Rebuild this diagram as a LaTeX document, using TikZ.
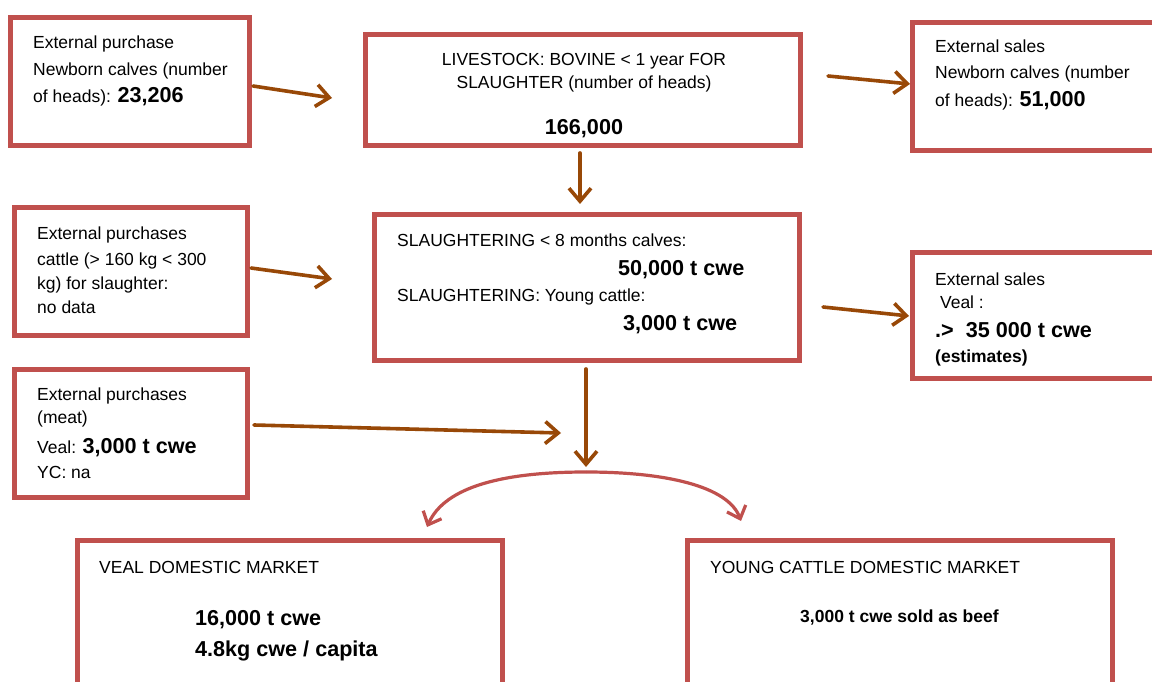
\documentclass[tikz,border=0pt]{standalone}
\usepackage{fontspec}
\setmainfont{Liberation Sans}
\usetikzlibrary{arrows.meta}
\definecolor{boxred}{HTML}{C0504D}
\definecolor{flowbrown}{HTML}{984807}
\begin{document}
\begin{tikzpicture}[x=1pt,y=-1pt,
  box/.style={draw=boxred,line width=5pt,fill=white,inner sep=0pt,outer sep=0pt},
  flow/.style={draw=flowbrown,line width=3.6pt,line cap=round,
    -{Straight Barb[length=13pt,width=22pt,line width=3.6pt]}},
  split/.style={draw=boxred,line width=3.2pt,
    -{Straight Barb[length=11pt,width=20pt,line width=3.2pt]}},
  txt/.style={anchor=base west,inner sep=0pt,font=\fontsize{17.5}{21}\selectfont},
  ctxt/.style={txt,anchor=base},
  big/.style={font=\fontsize{21.6}{26}\selectfont\bfseries},
  sbold/.style={font=\fontsize{17.5}{21}\selectfont\bfseries}]
\clip (0,0) rectangle (1152,682);
\fill[white] (0,0) rectangle (1152,682);

% boxes (corners on the stroke centre line)
\draw[box] (10.5,17.5) rectangle (249.5,145.5) node[pos=0.5] (bcalvesin) {};
\draw[box] (365.5,34.5) rectangle (800.5,145.5) node[pos=0.5] (blive) {};
\draw[box] (912.5,22.5) rectangle (1165,150.5) node[pos=0.5] (bcalvesout) {};
\draw[box] (14.5,207.5) rectangle (247.5,335.5) node[pos=0.5] (bcattlein) {};
\draw[box] (14.5,369.5) rectangle (247.5,497.5) node[pos=0.5] (bmeatin) {};
\draw[box] (374.5,214.5) rectangle (799.5,360.5) node[pos=0.5] (bslaughter) {};
\draw[box] (912.5,252.5) rectangle (1165,378.5) node[pos=0.5] (bvealout) {};
\draw[box] (77.5,540.5) rectangle (502.5,700) node[pos=0.5] (bvealdom) {};
\draw[box] (687.5,540.5) rectangle (1112.5,700) node[pos=0.5] (byoungdom) {};

% texts
\node[txt] (t1a) at (33,49) {External purchase};
\node[txt] (t1b) at (33,76) {Newborn calves (number};
\node[txt] (t1c) at (33,103) {of heads): {\fontsize{21.6}{26}\selectfont\bfseries 23,206}};

\node[ctxt] (t2a) at (584,66) {LIVESTOCK: BOVINE < 1 year FOR};
\node[ctxt] (t2b) at (584,89) {SLAUGHTER (number of heads)};
\node[ctxt,big] (t2c) at (584,135) {166,000};

\node[txt] (t3a) at (935,53) {External sales};
\node[txt] (t3b) at (935,79) {Newborn calves (number};
\node[txt] (t3c) at (935,107) {of heads): {\fontsize{21.6}{26}\selectfont\bfseries 51,000}};

\node[txt] (t4a) at (37,240) {External purchases};
\node[txt] (t4b) at (37,265) {cattle (> 160 kg < 300};
\node[txt] (t4c) at (37,289) {kg) for slaughter:};
\node[txt] (t4d) at (37,313) {no data};

\node[txt] (t5a) at (37,400) {External purchases};
\node[txt] (t5b) at (37,423) {(meat)};
\node[txt] (t5c) at (37,453) {Veal: {\fontsize{21.6}{26}\selectfont\bfseries 3,000 t cwe}};
\node[txt] (t5d) at (37,478) {YC: na};

\node[txt] (t6a) at (397,246) {SLAUGHTERING < 8 months calves:};
\node[txt,big] (t6b) at (618,275) {50,000 t cwe};
\node[txt] (t6c) at (397,301) {SLAUGHTERING: Young cattle:};
\node[txt,big] (t6d) at (623,330) {3,000 t cwe};

\node[txt] (t7a) at (935,285) {External sales};
\node[txt] (t7b) at (935,308) {\ Veal :};
\node[txt,big] (t7c) at (935,337) {.>\ \ 35 000 t cwe};
\node[txt,sbold] (t7d) at (935,362) {(estimates)};

\node[txt] (t8a) at (99,573) {VEAL DOMESTIC MARKET};
\node[txt,big] (t8b) at (195,625) {16,000 t cwe};
\node[txt,big] (t8c) at (195,656) {4.8kg cwe / capita};

\node[txt] (t9a) at (710,573) {YOUNG CATTLE DOMESTIC MARKET};
\node[txt,sbold] (t9b) at (800,622) {3,000 t cwe sold as beef};

% connector end points in the gaps between boxes
\coordinate (a1s) at (253,86);   \coordinate (a1e) at (332,98);
\coordinate (a2s) at (580,153);  \coordinate (a2e) at (580,204);
\coordinate (a3s) at (828,76);   \coordinate (a3e) at (910,84);
\coordinate (a4s) at (251,268);  \coordinate (a4e) at (332,279);
\coordinate (a5s) at (823,307);  \coordinate (a5e) at (909,316);
\coordinate (a6s) at (254,425);  \coordinate (a6e) at (561,433);
\coordinate (a7s) at (586,369);  \coordinate (a7e) at (586,467);
\coordinate (splittop) at (586,472);
\coordinate (splitl) at (427,527);
\coordinate (splitr) at (741,521);

% flows
\draw[flow] (a1s) -- (a1e);
\draw[flow] (a2s) -- (a2e);
\draw[flow] (a3s) -- (a3e);
\draw[flow] (a4s) -- (a4e);
\draw[flow] (a5s) -- (a5e);
\draw[flow] (a6s) -- (a6e);
\draw[flow] (a7s) -- (a7e);

% split towards the two domestic markets
\draw[split] (splittop) .. controls (505,472) and (445,486) .. (splitl);
\draw[split] (splittop) .. controls (665,472) and (728,486) .. (splitr);
\end{tikzpicture}
\end{document}
